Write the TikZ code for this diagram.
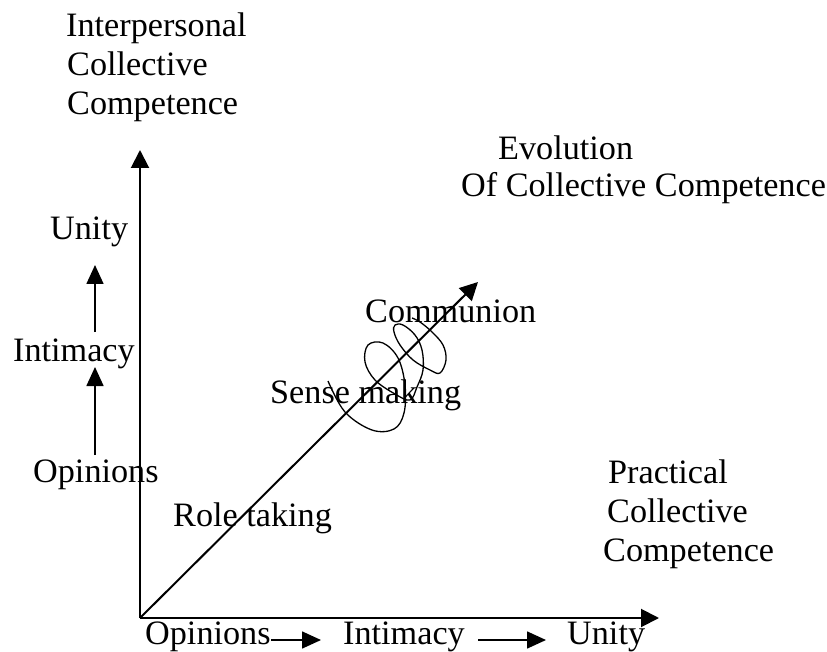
\documentclass[tikz,border=0pt]{standalone}
\usepackage{fontspec}
\setmainfont{Liberation Serif}
\usetikzlibrary{arrows.meta}
\begin{document}
\begin{tikzpicture}[x=1pt,y=-1pt,
  lbl/.style={anchor=base west, inner sep=0pt, font=\fontsize{34.2}{40}\selectfont},
  ax/.style={line width=2pt, -{Triangle[length=18pt,width=18pt]}},
  sm/.style={line width=1.6pt, -{Triangle[length=19pt,width=17pt]}},
  scribble/.style={line width=1.3pt}]
\useasboundingbox (0,0) rectangle (827,652);
% axes
\coordinate (O) at (140,618);
\coordinate (Ytip) at (140,150);
\coordinate (Xtip) at (659,618);
\coordinate (Dtip) at (478,282);
\draw[ax] (O) -- (Ytip);
\draw[ax] (O) -- (Xtip);
\draw[ax] (O) -- (Dtip);
% top-left label
\node[lbl] (ip1) at (66,37) {Interpersonal};
\node[lbl] (ip2) at (67,76) {Collective};
\node[lbl] (ip3) at (67,115) {Competence};
% evolution label
\node[lbl] (ev1) at (498,160) {Evolution};
\node[lbl] (ev2) at (461,197) {Of Collective Competence};
% practical label
\node[lbl] (pr1) at (608,483) {Practical};
\node[lbl] (pr2) at (607,522) {Collective};
\node[lbl] (pr3) at (603,561) {Competence};
% left column
\node[lbl] (lu) at (50,240) {Unity};
\node[lbl] (li) at (13,361) {Intimacy};
\node[lbl] (lo) at (33,482) {Opinions};
\coordinate (la1) at (95,455);
\coordinate (la2) at (95,367);
\coordinate (la3) at (95,332);
\coordinate (la4) at (95,265);
\draw[sm] (la1) -- (la2);
\draw[sm] (la3) -- (la4);
% bottom row
\node[lbl] (bo) at (145,644) {Opinions};
\node[lbl] (bi) at (343,644) {Intimacy};
\node[lbl] (bu) at (567,644) {Unity};
\coordinate (ba1) at (271,640);
\coordinate (ba2) at (321,640);
\coordinate (ba3) at (478,640);
\coordinate (ba4) at (546,640);
\draw[sm] (ba1) -- (ba2);
\draw[sm] (ba3) -- (ba4);
% diagonal labels
\node[lbl] (rt) at (173,526) {Role taking};
\node[lbl] (sm) at (270,403) {Sense making};
\node[lbl] (cm) at (365,322) {Communion};
% scribble
\draw[scribble] plot[smooth, tension=0.6] coordinates {
 (328,381) (345,412) (372,430) (394,429) (404,413) (405,385) (398,358)
 (383,343) (368,345) (365,362) (375,380) (395,394) (410,400) (417,387)
 (423,370) (422,350) (415,335) (403,325) (395,325) (394,332) (400,345)
 (413,360) (430,370) (440,373) (446,360) (443,345) (432,332) (420,322) (412,318)};
\end{tikzpicture}
\end{document}
